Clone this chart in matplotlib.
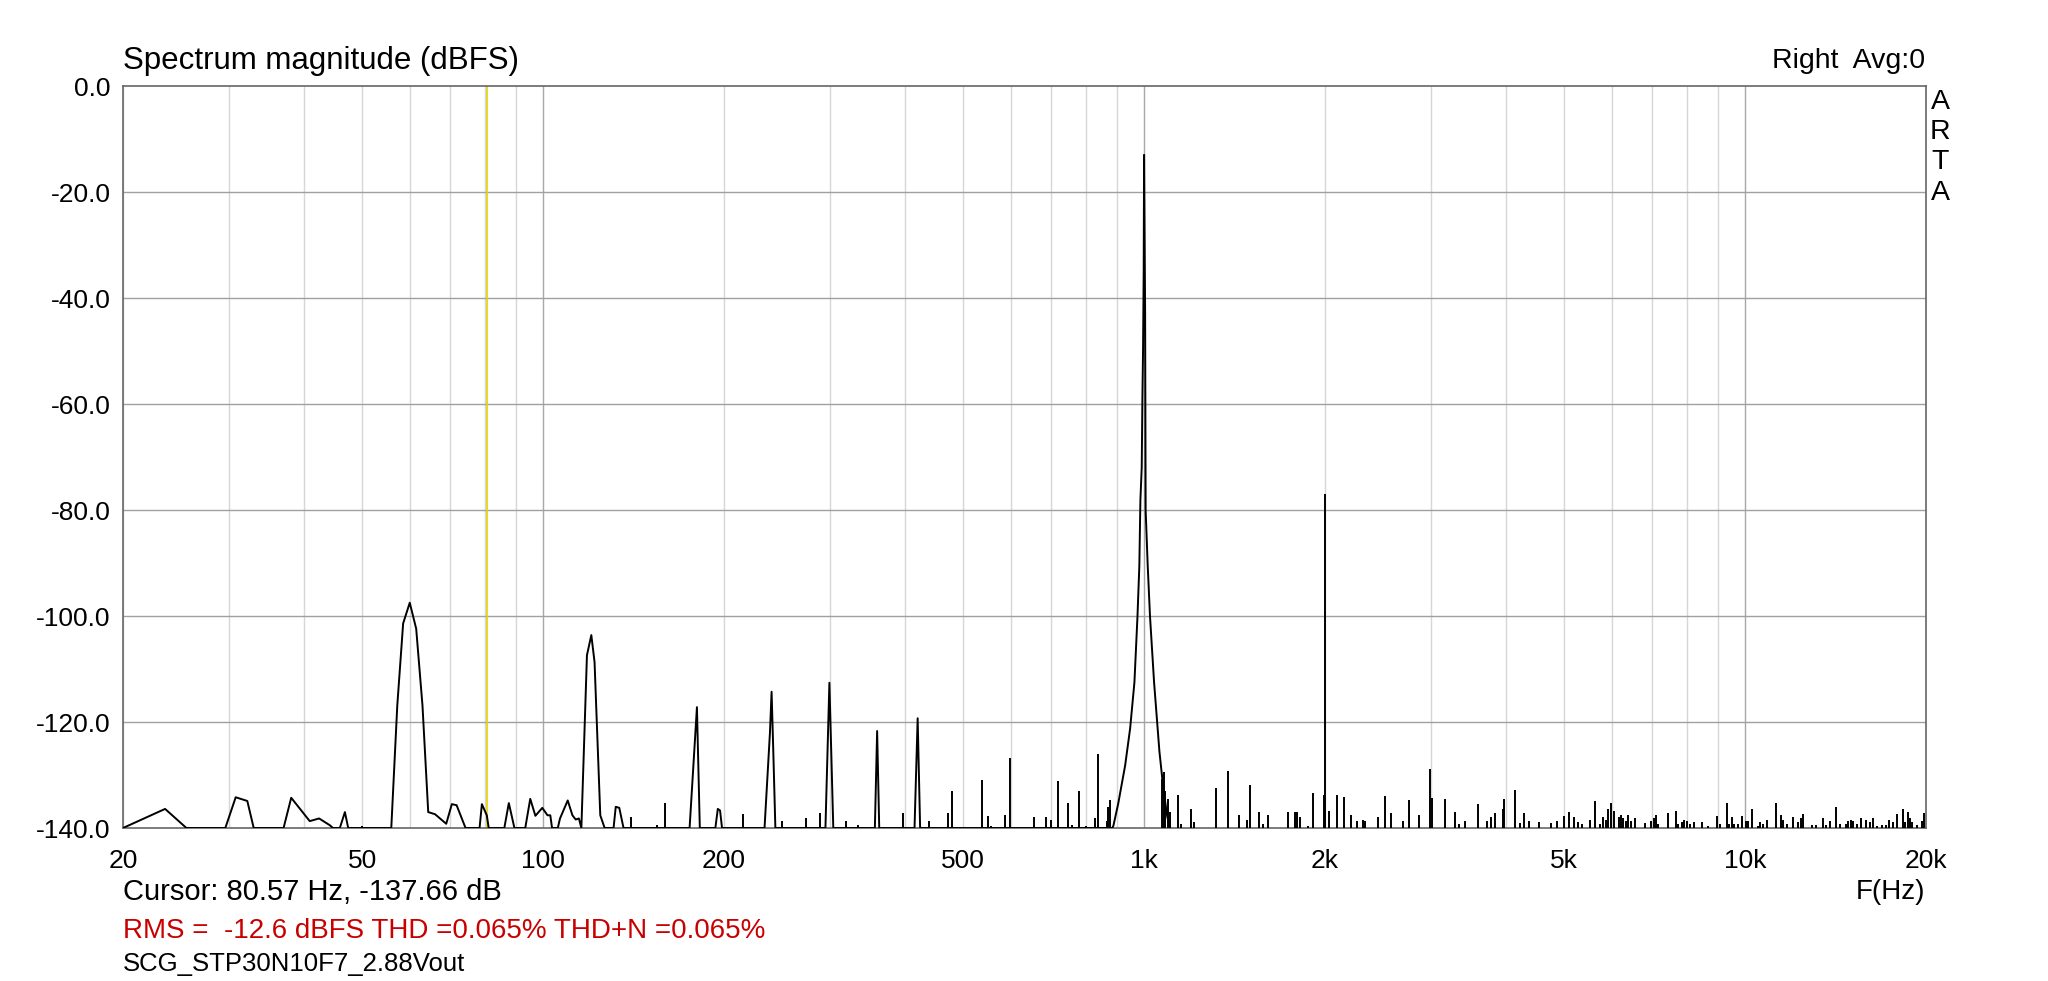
import numpy as np
import matplotlib
matplotlib.use("Agg")
import matplotlib.pyplot as plt
from matplotlib.ticker import FixedLocator, NullFormatter

plt.rcParams['font.family'] = ['Liberation Sans', 'DejaVu Sans']
plt.rcParams['axes.unicode_minus'] = False

# connected trace: hum harmonics + fundamental skirt (Hz, dBFS)
trace_hz = [20.0, 23.5, 25.5, 29.6, 30.8, 32.2, 33.0, 37.0, 38.1, 40.9, 42.4, 44.2, 44.7,
            45.9, 46.8, 47.4, 55.9, 57.2, 58.5, 60.0, 61.5, 63.0, 64.4, 66.1, 69.0, 70.5,
            71.8, 74.3, 78.4, 79.1, 80.6, 81.2, 86.2, 87.7, 89.6, 93.4, 95.2, 97.1, 99.7,
            101.7, 102.8, 103.5, 105.8, 106.7, 109.9, 111.9, 113.3, 114.7, 115.8, 118.3,
            120.3, 121.8, 124.5, 126.6, 131.0, 132.1, 133.9, 136.1, 175.3, 180.3, 182.3,
            193.5, 195.3, 197.0, 198.5, 233.6, 238.5, 240.0, 241.5, 243.5, 295.0, 299.5,
            304.0, 356.5, 359.6, 362.5, 415.0, 420.0, 424.0, 885.0, 889.0, 906.0, 930.0,
            948.0, 963.7, 975.0, 982.0, 986.0, 991.0, 993.6, 996.0, 998.5, 1000.0, 1001.0,
            1004.0, 1006.0, 1014.0, 1023.0, 1039.0, 1060.6, 1077.0, 1093.0, 1105.0]
trace_db = [-140.0, -136.4, -140.0, -140.0, -134.2, -134.9, -140.0, -140.0, -134.3, -138.7,
            -138.2, -139.5, -140.0, -140.0, -137.0, -140.0, -140.0, -116.9, -101.4, -97.5,
            -102.4, -116.9, -137.0, -137.4, -139.2, -135.5, -135.7, -140.0, -140.0, -135.5,
            -137.6, -140.0, -140.0, -135.3, -140.0, -140.0, -134.5, -137.7, -136.2, -137.6,
            -137.6, -140.0, -140.0, -138.2, -134.8, -137.6, -138.4, -138.2, -140.0, -107.4,
            -103.6, -108.7, -137.6, -140.0, -140.0, -136.0, -136.2, -140.0, -140.0, -117.2,
            -140.0, -140.0, -136.4, -136.7, -140.0, -140.0, -122.0, -114.3, -125.0, -140.0,
            -140.0, -112.6, -140.0, -140.0, -121.7, -140.0, -140.0, -119.3, -140.0, -140.0,
            -139.6, -135.3, -128.2, -121.2, -112.5, -100.1, -90.5, -78.1, -72.0, -58.9,
            -50.0, -35.0, -13.0, -20.2, -43.0, -80.0, -90.5, -100.1, -112.5, -125.6, -132.7,
            -137.9, -140.0]

# isolated spurious lines above the floor (Hz, dBFS)
spike_hz = [50, 140.3, 154.7, 159.5, 166, 215.2, 250, 274, 288.4, 319, 334, 397.6, 439,
            471.5, 479.6, 538, 549, 557, 588, 599, 656.7, 688, 700, 718, 746, 758, 778, 800,
            828.5, 837, 866, 870, 877.5, 1072, 1081, 1085, 1095, 1103, 1137, 1150, 1195,
            1210, 1317, 1378, 1439, 1482, 1501, 1555, 1579, 1608, 1738, 1783, 1794, 1817,
            1876, 1912, 1995, 2000, 2033, 2096, 2150, 2212, 2258, 2310, 2334, 2450, 2517,
            2572, 2700, 2756, 2871, 2991, 3010, 3162, 3292, 3346, 3420, 3599, 3715, 3773,
            3831, 3950, 3972, 4136, 4222, 4292, 4370, 4541, 4748, 4859, 4991, 5086, 5199,
            5265, 5360, 5512, 5626, 5742, 5794, 5868, 5914, 5983, 6044, 6160, 6208, 6263,
            6328, 6394, 6450, 6557, 6814, 6965, 7055, 7108, 7172, 7454, 7666, 7745, 7844,
            7925, 7997, 8098, 8233, 8467, 8677, 8968, 9083, 9318, 9401, 9524, 9583, 9744,
            9894, 10035, 10125, 10250, 10493, 10587, 10723, 10860, 11240, 11460, 11577,
            11728, 12030, 12263, 12373, 12500, 12905, 13122, 13460, 13632, 13843, 14150,
            14383, 14720, 14853, 14987, 15140, 15333, 15569, 15888, 16135, 16344, 16554,
            16874, 17156, 17378, 17645, 17870, 18290, 18452, 18640, 18809, 18929, 19295,
            19669, 19870]
spike_db = [-139.6, -137.9, -139.5, -135.2, -139.8, -137.3, -138.7, -138.2, -137.2, -138.7,
            -139.4, -137.1, -138.7, -137.2, -133.0, -131.0, -137.8, -139.6, -137.5, -126.7,
            -137.9, -138.0, -138.5, -131.1, -135.2, -139.5, -133.1, -139.7, -138.2, -126.0,
            -138.6, -136.0, -134.8, -130.7, -129.4, -133.0, -134.5, -137.0, -133.8, -139.3,
            -136.4, -138.8, -132.5, -129.2, -137.6, -138.5, -131.9, -136.9, -139.2, -137.6,
            -137.0, -137.0, -136.9, -137.9, -139.6, -133.4, -133.8, -76.9, -136.7, -133.8,
            -134.2, -137.5, -138.7, -138.4, -138.7, -138.0, -134.0, -137.2, -138.6, -134.8,
            -137.5, -128.8, -134.3, -134.5, -137.0, -139.2, -138.6, -135.4, -138.6, -138.0,
            -137.1, -136.5, -134.5, -132.9, -139.1, -137.2, -138.6, -138.9, -139.0, -138.6,
            -137.7, -137.0, -137.9, -138.9, -139.2, -138.4, -134.9, -139.2, -137.9, -138.4,
            -136.5, -135.2, -136.7, -137.9, -137.6, -138.1, -138.6, -137.5, -138.6, -138.2,
            -139.0, -138.6, -138.2, -137.5, -139.3, -137.2, -136.7, -139.2, -138.8, -138.5,
            -138.6, -139.2, -138.9, -138.9, -139.6, -137.7, -139.2, -135.2, -139.2, -137.9,
            -139.2, -139.3, -137.7, -138.6, -138.6, -136.5, -139.6, -138.9, -139.2, -138.4,
            -135.2, -137.6, -138.4, -139.2, -137.9, -138.9, -138.2, -137.3, -139.4, -139.4,
            -138.2, -139.4, -138.7, -136.0, -139.2, -139.2, -138.6, -138.4, -138.6, -139.2,
            -138.1, -138.4, -138.9, -138.2, -139.6, -139.4, -139.4, -138.4, -138.9, -137.3,
            -136.5, -138.9, -136.9, -138.2, -138.9, -139.4, -138.7, -137.1]

xticks = [20, 50, 100, 200, 500, 1000, 2000, 5000, 10000, 20000]
xtick_labels = ['20', '50', '100', '200', '500', '1k', '2k', '5k', '10k', '20k']
yticks = [0, -20, -40, -60, -80, -100, -120, -140]
ytick_labels = ['0.0', '-20.0', '-40.0', '-60.0', '-80.0', '-100.0', '-120.0', '-140.0']
cursor_hz = 80.57

W, H = 2048, 981
fig = plt.figure(figsize=(W / 100, H / 100), dpi=100)
ax = fig.add_axes([123 / W, 1 - 828 / H, (1926 - 123) / W, (828 - 86) / H])

ax.set_xscale('log')
ax.set_xlim(20, 20000)
ax.set_ylim(-140, 0)

# grid: light minor log lines, darker decades and dB lines
minor = [m * d for d in (10, 100, 1000, 10000) for m in range(2, 10) if 20 <= m * d <= 20000]
for f in minor:
    ax.axvline(f, color='#d6d6d6', lw=1.0, zorder=0)
for f in (100, 1000, 10000):
    ax.axvline(f, color='#a8a8a8', lw=1.0, zorder=0)
for y in yticks[1:-1]:
    ax.axhline(y, color='#a0a0a0', lw=1.0, zorder=0)

ax.axvline(cursor_hz, color='#e2d400', lw=1.2, zorder=1)

ax.plot(trace_hz, trace_db, color='black', lw=1.4, zorder=3)
ax.vlines(spike_hz, -140, spike_db, color='black', lw=1.4, zorder=3)

ax.xaxis.set_major_locator(FixedLocator(xticks))
ax.xaxis.set_minor_locator(FixedLocator([]))
ax.xaxis.set_minor_formatter(NullFormatter())
ax.set_xticklabels(xtick_labels)
ax.set_yticks(yticks)
ax.set_yticklabels(ytick_labels)
ax.tick_params(axis='both', length=0, labelsize=19)
ax.tick_params(axis='y', pad=9)
ax.tick_params(axis='x', pad=15)

for s in ax.spines.values():
    s.set_color('#666666')
    s.set_linewidth(1.2)

def px(x, y):
    return x / W, 1 - y / H

fig.text(*px(123, 61), 'Spectrum magnitude (dBFS)', fontsize=22.5, va='center', ha='left')
fig.text(*px(1925, 61), 'Right  Avg:0', fontsize=20.5, va='center', ha='right')
for ch, yy in zip('ARTA', (102, 132, 162, 193)):
    fig.text(*px(1940, yy), ch, fontsize=20.5, va='center', ha='center')
fig.text(*px(123, 892), 'Cursor: 80.57 Hz, -137.66 dB', fontsize=21, va='center', ha='left')
fig.text(*px(1925, 892), 'F(Hz)', fontsize=20, va='center', ha='right')
fig.text(*px(123, 931), 'RMS =  -12.6 dBFS THD =0.065% THD+N =0.065%', fontsize=20,
         va='center', ha='left', color='#c80000')
fig.text(*px(123, 964), 'SCG_STP30N10F7_2.88Vout', fontsize=18.5, va='center', ha='left')

fig.savefig('out.png', dpi=100)
